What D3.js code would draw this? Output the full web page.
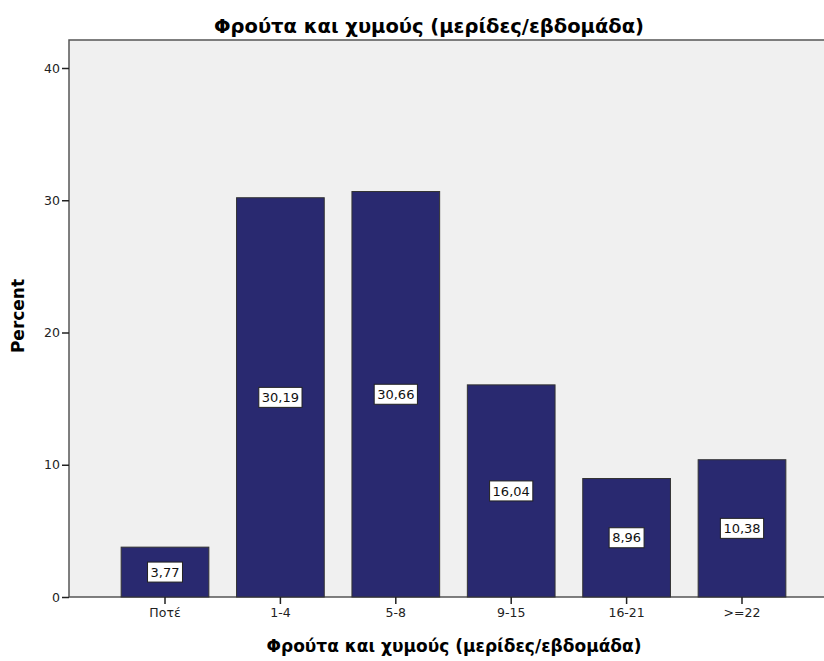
<!DOCTYPE html>
<html>
<head>
<meta charset="utf-8">
<script src="https://cdn.jsdelivr.net/npm/d3@7"></script>
<style>
  body { margin: 0; background: #fff; }
  svg { display: block; font-family: "DejaVu Sans", Verdana, sans-serif; }
</style>
</head>
<body>
<svg id="chart" width="824" height="661"></svg>
<script>
const categories = ["Ποτέ", "1-4", "5-8", "9-15", "16-21", ">=22"];
const percents = [3.77, 30.19, 30.66, 16.04, 8.96, 10.38];
const yTicks = [0, 10, 20, 30, 40];
const titleText = "Φρούτα και χυμούς (μερίδες/εβδομάδα)";

const svg = d3.select("#chart");

// plot frame runs past the right edge of the picture, as in the source
const plot = { left: 69, top: 40, right: 838, bottom: 597 };

const x = d3.scaleBand()
  .domain(categories)
  .range([107.3, 799.7])
  .paddingInner(0.24)
  .paddingOuter(0.12);

const y = d3.scaleLinear()
  .domain([0, 40])
  .range([597, 68]);

svg.append("rect")
  .attr("x", plot.left)
  .attr("y", plot.top)
  .attr("width", plot.right - plot.left)
  .attr("height", plot.bottom - plot.top)
  .attr("fill", "#f0f0f0")
  .attr("stroke", "#555")
  .attr("stroke-width", 1.5);

// bars
svg.append("g").selectAll("rect")
  .data(percents)
  .enter()
  .append("rect")
  .attr("x", (d, i) => x(categories[i]))
  .attr("y", d => y(d))
  .attr("width", x.bandwidth())
  .attr("height", d => y(0) - y(d))
  .attr("fill", "#292970")
  .attr("stroke", "#333")
  .attr("stroke-width", 1);

// value labels in white boxes, centred in each bar
const labels = svg.append("g").selectAll("g")
  .data(percents)
  .enter()
  .append("g")
  .attr("transform", (d, i) => "translate(" + (x(categories[i]) + x.bandwidth() / 2) + "," + ((y(d) + y(0)) / 2) + ")");

labels.append("text")
  .attr("text-anchor", "middle")
  .attr("dy", "0.36em")
  .attr("font-size", 13)
  .attr("fill", "#111")
  .text(d => d.toFixed(2).replace(".", ","));

labels.each(function() {
  const g = d3.select(this);
  const bb = g.select("text").node().getBBox();
  g.insert("rect", "text")
    .attr("x", bb.x - 3)
    .attr("y", -10)
    .attr("width", bb.width + 6)
    .attr("height", 20)
    .attr("fill", "#fff")
    .attr("stroke", "#222")
    .attr("stroke-width", 1);
});

// axes
const yAxis = svg.append("g")
  .attr("transform", "translate(" + plot.left + ",0)")
  .call(d3.axisLeft(y).tickValues(yTicks).tickSize(7).tickPadding(2));

const xAxis = svg.append("g")
  .attr("transform", "translate(0," + plot.bottom + ")")
  .call(d3.axisBottom(x).tickSize(7).tickPadding(4));

[yAxis, xAxis].forEach(a => {
  a.attr("font-size", null).attr("font-family", null);
  a.select(".domain").remove();
  a.selectAll("line").attr("stroke", "#222").attr("stroke-width", 1.5);
  a.selectAll("text").style("font-size", "12.5px").attr("fill", "#222");
});

// titles
svg.append("text")
  .attr("x", 429)
  .attr("y", 33)
  .attr("text-anchor", "middle")
  .attr("font-weight", "bold")
  .attr("font-size", 19.5)
  .text(titleText);

svg.append("text")
  .attr("x", 454)
  .attr("y", 652)
  .attr("text-anchor", "middle")
  .attr("font-weight", "bold")
  .attr("font-size", 17)
  .text(titleText);

svg.append("text")
  .attr("transform", "translate(24,316) rotate(-90)")
  .attr("text-anchor", "middle")
  .attr("font-weight", "bold")
  .attr("font-size", 17)
  .text("Percent");
</script>
</body>
</html>
